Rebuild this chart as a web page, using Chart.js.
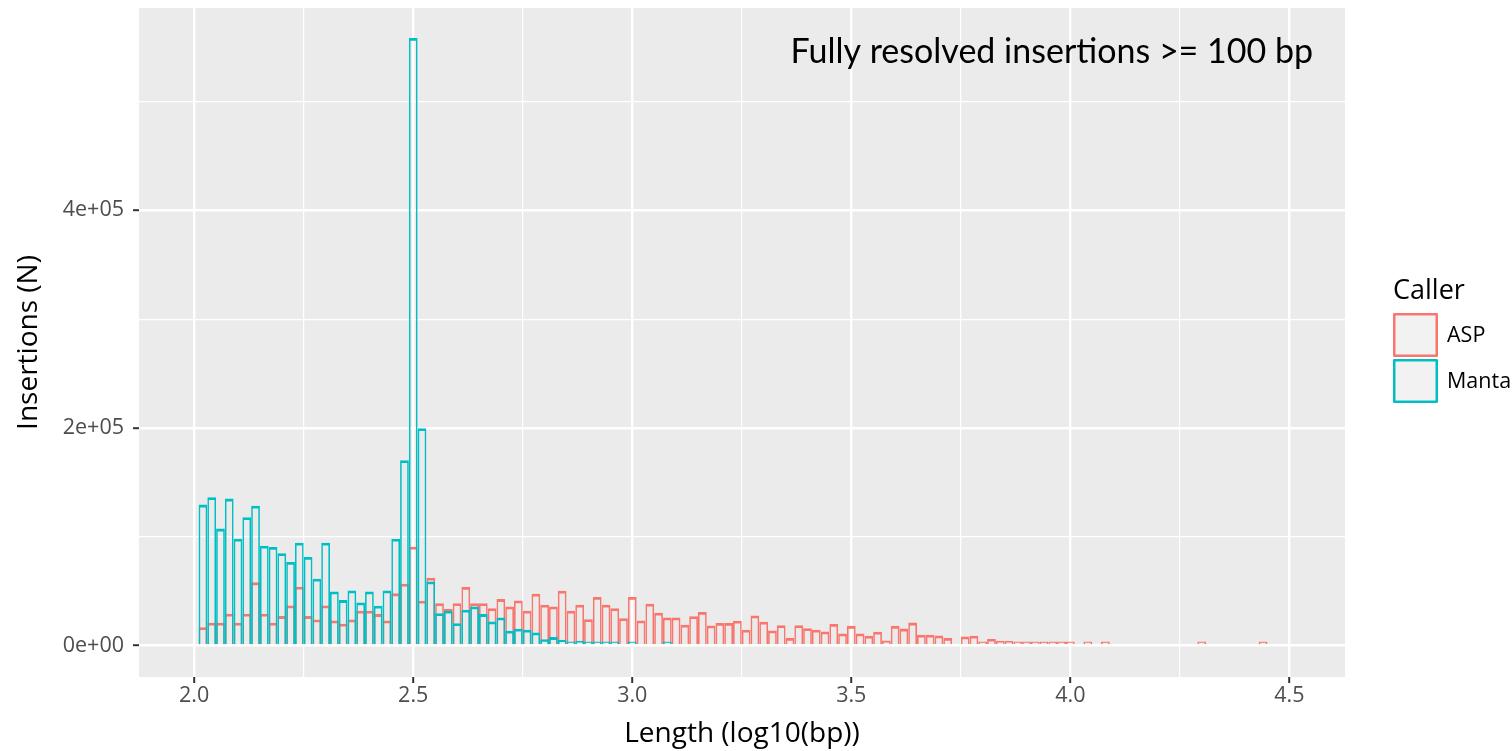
<!DOCTYPE html>
<html>
<head>
<meta charset="utf-8">
<title>Fully resolved insertions &gt;= 100 bp</title>
<script src="https://cdn.jsdelivr.net/npm/chart.js@4.4.1/dist/chart.umd.min.js"></script>
<style>
  html, body { margin: 0; padding: 0; background: #fff; }
  #wrap { width: 1512px; height: 751px; position: relative; }
</style>
</head>
<body>
<div id="wrap"><canvas id="histChart"></canvas></div>
<script>
// histogram bins, 0.02 log10 units wide, first bin centred on 2.02
const binStart = 2.02;
const binWidth = 0.02;

// counts per bin (null = empty bin, not drawn)
const aspCounts = [
  16800, 20900, 20900, 29200, 20900, 29200, 58000, 29200, 20900, 27000,
  36800, 54000, 27000, 23900, 36800, 23000, 20000, 23900, 31900, 31900,
  28800, 23000, 47900, 56800, 90800, 41100, 62300, 38900, 33400, 38900,
  53700, 38900, 38900, 34300, 42600, 35900, 41400, 31900, 47600, 37400,
  35900, 50300, 31900, 37400, 24200, 44500, 37400, 34300, 25100, 44500,
  23000, 38400, 30000, 25800, 25800, 19000, 26800, 30700, 18400, 20600,
  20600, 22700, 14400, 27600, 21800, 13800, 18600, 7000, 18600, 15900,
  14400, 12900, 19800, 11000, 18000, 11000, 9000, 12600, 4500, 18000,
  15500, 21000, 9800, 9800, 9200, 6900, null, 8300, 8900, 2000,
  6000, 4400, 4400, 2200, 1300, 1300, 1300, 3500, 2500, 900,
  null, 900, null, 1300, null, null, null, null, null, null,
  null, null, null, null, 800, null, null, null, null, null,
  null, 1500
];
const mantaCounts = [
  129500, 136200, 107400, 135000, 98200, 117800, 128500, 91700, 90500, 84700,
  76700, 94500, 81300, 61400, 94500, 49700, 41700, 50600, 39600, 49700,
  36500, 50600, 98200, 170300, 558400, 199700, 58900, 29700, 31900, 20500,
  32800, 35900, 28800, 22100, 25800, 13500, 15300, 14400, 12000, 5800,
  7700, 5200, 2800, 4300, 1500, 2500, 1000, 800, null, 600,
  null, null, null, 500
];

const seriesNames = ['ASP', 'Manta'];
const seriesColors = ['#F8766D', '#00BFC4'];

const xMin = 1.874, xMax = 4.627;
const xMajorTicks = [2.0, 2.5, 3.0, 3.5, 4.0, 4.5];
const xMajorLabels = ['2.0', '2.5', '3.0', '3.5', '4.0', '4.5'];
const xMinorTicks = [2.25, 2.75, 3.25, 3.75, 4.25];

const yMin = -29000, yMax = 586000;
const yMajorTicks = [0, 200000, 400000];
const yMajorLabels = ['0e+00', '2e+05', '4e+05'];
const yMinorTicks = [100000, 300000, 500000];

const plotTitle = 'Fully resolved insertions >= 100 bp';
const legendTitle = 'Caller';

function toPoints(counts) {
  return counts.map((c, i) => ({ x: +(binStart + i * binWidth).toFixed(2), y: c }));
}

function findTick(list, v) {
  return list.findIndex(t => Math.abs(t - v) < 1e-9);
}

// no extra room for half tick labels, the panel keeps its own box
function noScalePadding(s) {
  s.paddingTop = 0; s.paddingBottom = 0; s.paddingLeft = 0; s.paddingRight = 0;
}

const tickFont = { family: 'Open Sans', size: 21.5 };
const titleFont = { family: 'Open Sans', size: 28 };

// grey panel + annotation + ggplot style legend
const ggPanel = {
  id: 'ggPanel',
  beforeDraw(chart) {
    const { ctx, chartArea: a } = chart;
    ctx.save();
    ctx.fillStyle = '#FFFFFF';
    ctx.fillRect(0, 0, chart.width, chart.height);
    ctx.fillStyle = '#EBEBEB';
    ctx.fillRect(a.left, a.top, a.right - a.left, a.bottom - a.top);
    ctx.restore();
  },
  afterDraw(chart) {
    const { ctx, chartArea: a } = chart;
    ctx.save();
    // annotation in the top right of the panel
    ctx.fillStyle = '#000';
    ctx.font = '34px Lato';
    ctx.textAlign = 'right';
    ctx.textBaseline = 'alphabetic';
    ctx.fillText(plotTitle, a.right - 32, 63);

    // legend
    const lx = a.right + 48;
    ctx.textAlign = 'left';
    ctx.textBaseline = 'middle';
    ctx.font = '27px "Open Sans"';
    ctx.fillText(legendTitle, lx, 291);
    ctx.font = '21.5px "Open Sans"';
    chart.data.datasets.forEach((ds, i) => {
      const ky = 313 + i * 46;
      ctx.fillStyle = '#F2F2F2';
      ctx.fillRect(lx + 1, ky + 1, 43, 42);
      ctx.strokeStyle = ds.borderColor;
      ctx.lineWidth = 2.5;
      ctx.lineJoin = 'round';
      ctx.strokeRect(lx + 1.25, ky + 1.25, 42.5, 41.5);
      ctx.fillStyle = '#000';
      ctx.fillText(ds.label, lx + 54, ky + 23);
    });
    ctx.restore();
  }
};

const barStyle = {
  backgroundColor: 'rgba(0,0,0,0)',
  borderWidth: { top: 2.8, right: 1.6, bottom: 0, left: 1.6 },
  borderSkipped: 'start',
  grouped: false,
  barPercentage: 1,
  categoryPercentage: 1,
  minBarLength: 4,
  inflateAmount: 0
};

new Chart(document.getElementById('histChart'), {
  type: 'bar',
  data: {
    datasets: [
      Object.assign({ label: seriesNames[0], data: toPoints(aspCounts), borderColor: seriesColors[0], order: 1 }, barStyle),
      Object.assign({ label: seriesNames[1], data: toPoints(mantaCounts), borderColor: seriesColors[1], order: 0 }, barStyle)
    ]
  },
  options: {
    responsive: true,
    maintainAspectRatio: false,
    devicePixelRatio: 1,
    animation: false,
    layout: { padding: { left: 0, top: 8, right: 167, bottom: 0 } },
    plugins: {
      legend: { display: false },
      tooltip: { enabled: false }
    },
    scales: {
      x: {
        type: 'linear',
        min: xMin,
        max: xMax,
        offset: false,
        afterFit: s => { s.height = 74; noScalePadding(s); },
        afterBuildTicks: s => { s.ticks = xMajorTicks.concat(xMinorTicks).map(v => ({ value: v })); },
        ticks: {
          autoSkip: false,
          maxRotation: 0,
          color: '#4D4D4D',
          font: tickFont,
          padding: 0,
          callback: v => { const i = findTick(xMajorTicks, v); return i >= 0 ? xMajorLabels[i] : ''; }
        },
        grid: {
          offset: false,
          color: '#FFFFFF',
          lineWidth: c => (c.tick && findTick(xMajorTicks, c.tick.value) >= 0 ? 2.4 : 1.2),
          tickColor: c => (c.tick && findTick(xMajorTicks, c.tick.value) >= 0 ? '#333333' : 'rgba(0,0,0,0)'),
          tickWidth: 2,
          tickLength: 6
        },
        border: { display: false },
        title: { display: true, text: 'Length (log10(bp))', color: '#000', font: titleFont, padding: { top: 0, bottom: 0 } }
      },
      y: {
        min: yMin,
        max: yMax,
        afterFit: s => { s.width = 139; noScalePadding(s); },
        afterBuildTicks: s => { s.ticks = yMajorTicks.concat(yMinorTicks).map(v => ({ value: v })); },
        ticks: {
          color: '#4D4D4D',
          font: tickFont,
          padding: 9,
          callback: v => { const i = findTick(yMajorTicks, v); return i >= 0 ? yMajorLabels[i] : ''; }
        },
        grid: {
          color: '#FFFFFF',
          lineWidth: c => (c.tick && findTick(yMajorTicks, c.tick.value) >= 0 ? 2.4 : 1.2),
          tickColor: c => (c.tick && findTick(yMajorTicks, c.tick.value) >= 0 ? '#333333' : 'rgba(0,0,0,0)'),
          tickWidth: 2,
          tickLength: 6
        },
        border: { display: false },
        title: { display: true, text: 'Insertions (N)', color: '#000', font: titleFont, padding: { top: 12, bottom: 0 } }
      }
    }
  },
  plugins: [ggPanel]
});
</script>
</body>
</html>
